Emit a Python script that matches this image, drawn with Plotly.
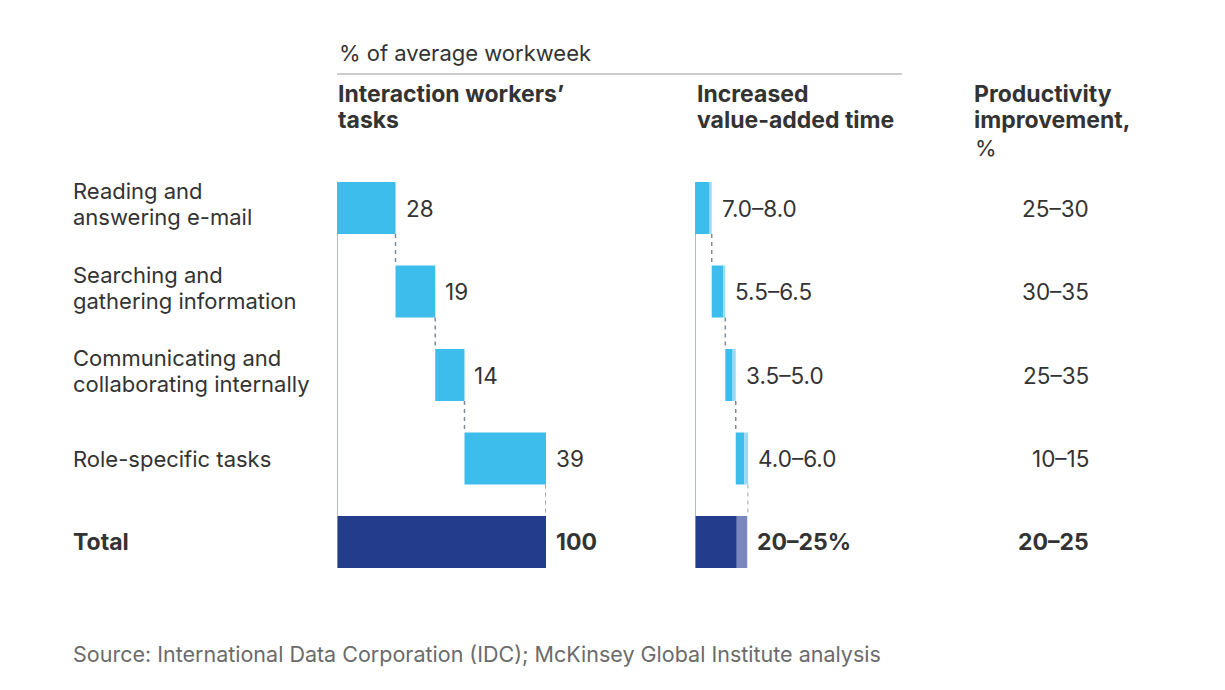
"""
Interaction workers' tasks waterfall with value-added time and productivity columns
"""

import plotly.graph_objects as go

# page body has an 8px margin, so the figure is shrunk to fit the window
W, H = 1225, 690
OFF = 8
FW, FH = W - 2 * OFF, H - 2 * OFF

# data
tasks = [["Reading and", "answering e-mail"], ["Searching and", "gathering information"],
         ["Communicating and", "collaborating internally"], ["Role-specific tasks"],
         ["<b>Total</b>"]]
task_share = [28, 19, 14, 39]
total_share = 100
added_low = [7.0, 5.5, 3.5, 4.0]
added_high = [8.0, 6.5, 5.0, 6.0]
total_low, total_high = 20, 25
added_labels = ["7.0–8.0", "5.5–6.5", "3.5–5.0", "4.0–6.0", "<b>20–25%</b>"]
productivity = ["25–30", "30–35", "25–35", "10–15", "<b>20–25</b>"]
source = "Source: International Data Corporation (IDC); McKinsey Global Institute analysis"

LIGHT = "#3dbdec"
LIGHT_RANGE = "#9dd9f3"
NAVY = "#233d8c"
NAVY_RANGE = "#7b88bf"
TEXT = "#333333"
GREY = "#9aa3ad"
FONT = "Inter"
FS = 22
FS_NUM = 22.5
FS_BOLD = 23

rows = list(range(5))
bw = 0.62


def px(v):
    return (v - OFF) / FW


def py(v):
    return 1 - (v - OFF) / FH


# waterfall bases
base1 = [0]
for v in task_share[:-1]:
    base1.append(base1[-1] + v)
base1.append(0)
x1 = task_share + [total_share]

base2 = [0]
for v in added_high[:-1]:
    base2.append(base2[-1] + v)
base2.append(0)
low2 = added_low + [total_low]
high2 = added_high + [total_high]

fig = go.Figure()

fig.add_trace(go.Bar(
    y=rows, x=x1, base=base1, orientation="h", width=bw,
    marker=dict(color=[LIGHT] * 4 + [NAVY], line=dict(width=0)),
    xaxis="x", yaxis="y", hoverinfo="skip"))

fig.add_trace(go.Bar(
    y=rows, x=low2, base=base2, orientation="h", width=bw,
    marker=dict(color=[LIGHT] * 4 + [NAVY], line=dict(width=0)),
    xaxis="x2", yaxis="y", hoverinfo="skip"))

fig.add_trace(go.Bar(
    y=rows, x=[h - l for h, l in zip(high2, low2)],
    base=[b + l for b, l in zip(base2, low2)], orientation="h", width=bw,
    marker=dict(color=[LIGHT_RANGE] * 4 + [NAVY_RANGE], line=dict(width=0)),
    xaxis="x2", yaxis="y", hoverinfo="skip"))

# left axis lines and dashed connectors
shapes = []
for xr in ["x", "x2"]:
    shapes.append(dict(type="line", xref=xr, yref="y", x0=0, x1=0,
                       y0=-bw / 2, y1=4 + bw / 2, line=dict(color=GREY, width=1.5)))

ends1 = [b + v for b, v in zip(base1[:4], task_share)]
ends2 = [b + v for b, v in zip(base2[:4], added_high)]
for i in range(4):
    for xr, ends in [("x", ends1), ("x2", ends2)]:
        shapes.append(dict(type="line", xref=xr, yref="y", x0=ends[i], x1=ends[i],
                           y0=i + bw / 2, y1=i + 1 - bw / 2,
                           line=dict(color="#7d8a99", width=1.5, dash="4px,4px")))

# header rule
shapes.append(dict(type="line", xref="paper", yref="paper", x0=px(337), x1=px(902),
                   y0=py(74), y1=py(74), line=dict(color="#bbbbbb", width=1.5)))

ann = []
for i, lines in enumerate(tasks):
    offs = [0] if len(lines) == 1 else [17, -9]
    for t, dy in zip(lines, offs):
        ann.append(dict(xref="paper", yref="y", x=px(71), y=i, yshift=dy, text=t,
                        showarrow=False, xanchor="left", yanchor="middle",
                        font=dict(size=FS_BOLD if "<b>" in t else FS, color=TEXT)))

lab1 = [str(v) for v in task_share] + ["<b>%d</b>" % total_share]
for i in rows:
    fs = FS_BOLD if i == 4 else FS_NUM
    ann.append(dict(xref="x", yref="y", x=base1[i] + x1[i], y=i, text=lab1[i],
                    showarrow=False, xanchor="left", yanchor="middle", xshift=8,
                    font=dict(size=fs, color=TEXT)))
    ann.append(dict(xref="x2", yref="y", x=base2[i] + high2[i], y=i, text=added_labels[i],
                    showarrow=False, xanchor="left", yanchor="middle", xshift=8,
                    font=dict(size=fs, color=TEXT)))
    ann.append(dict(xref="paper", yref="y", x=px(1091), y=i, text=productivity[i],
                    showarrow=False, xanchor="right", yanchor="middle",
                    font=dict(size=fs, color=TEXT)))

headers = [
    (337, 53, "% of average workweek", FS),
    (336, 94, "<b>Interaction workers’</b>", FS_BOLD),
    (336, 120, "<b>tasks</b>", FS_BOLD),
    (695, 94, "<b>Increased</b>", FS_BOLD),
    (695, 120, "<b>value-added time</b>", FS_BOLD),
    (972, 94, "<b>Productivity</b>", FS_BOLD),
    (972, 120, "<b>improvement,</b>", FS_BOLD),
    (973, 148, "%", FS),
]
for x, y, t, fs in headers:
    ann.append(dict(xref="paper", yref="paper", x=px(x), y=py(y), text=t, showarrow=False,
                    xanchor="left", yanchor="middle",
                    font=dict(size=fs, color=TEXT)))

ann.append(dict(xref="paper", yref="paper", x=px(71), y=py(654), text=source,
                showarrow=False, xanchor="left", yanchor="middle",
                font=dict(size=21.5, color="#6b6b6b")))

scale = (546 - 337) / 100.0
fig.update_layout(
    width=FW, height=FH, margin=dict(l=0, r=0, t=0, b=0),
    paper_bgcolor="white", plot_bgcolor="white",
    font=dict(family=FONT, color=TEXT),
    showlegend=False, barmode="overlay",
    xaxis=dict(domain=[px(337), px(546)], range=[0, 100], visible=False, fixedrange=True),
    xaxis2=dict(domain=[px(695), px(695 + 25.5 * scale)], range=[0, 25.5],
                visible=False, fixedrange=True),
    yaxis=dict(domain=[py(583.75), py(166.25)], range=[4.5, -0.5], visible=False,
               fixedrange=True),
    shapes=shapes, annotations=ann,
)

fig.write_html("out.html")
